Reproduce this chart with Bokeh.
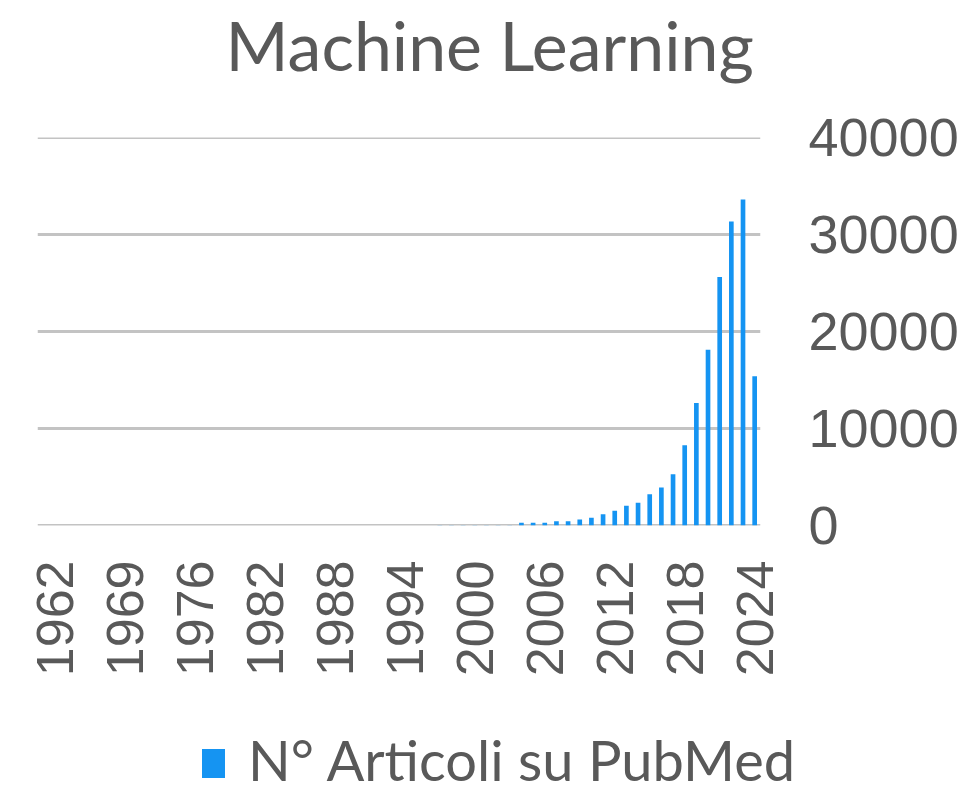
from bokeh.plotting import figure
from bokeh.models import Range1d, FixedTicker, ColumnDataSource, Title, Div
from bokeh.layouts import column
from bokeh.embed import file_html
from bokeh.resources import INLINE
import math

# ---- data ----
years = [1958, 1962, 1963, 1964, 1965, 1966, 1968, 1969, 1970, 1971, 1972, 1973, 1975] + list(range(1976, 2025))
counts = [1, 1, 1, 1, 1, 1, 1, 1, 1, 1, 1, 1, 1,
          1, 1, 1, 2, 2, 2, 2, 3, 3, 3, 4, 4, 5, 5, 6,
          6, 7, 8, 9, 10, 11, 12, 14, 16, 18, 20, 24, 30,
          280, 280, 280, 440, 440, 620, 790, 1170, 1520, 2030, 2340, 3230, 3920, 5290,
          8260, 12620, 18130, 25620, 31340, 33610, 15380]
label_every = 6
series_name = "N° Articoli su PubMed"
title_text = "Machine Learning"
y_ticks = [0, 10000, 20000, 30000, 40000]

idx = list(range(len(years)))
src = ColumnDataSource(dict(x=idx, count=counts, year=[str(y) for y in years]))

TXT = "#595959"
BAR = "#1594F2"

p = figure(width=961, height=720, output_backend="svg", toolbar_location=None,
           x_range=Range1d(-0.5, len(years) - 0.5), y_range=Range1d(-1, 40001),
           y_axis_location="right",
           min_border_left=37, min_border_right=201, min_border_top=137, min_border_bottom=195)

r = p.vbar(x="x", top="count", width=0.4, source=src, fill_color=BAR, line_color=None)

# title (outermost) + small spacer between title and plot area
p.title.text = title_text
p.title.align = "left"
p.title.offset = 188
p.title.text_font = "Lato"
p.title.text_font_size = "68px"
p.title.text_font_style = "normal"
p.title.text_color = TXT
p.title.standoff = 0
p.add_layout(Title(text=" ", text_font_size="10px", standoff=40), "above")

# grid
p.xgrid.grid_line_color = None
p.ygrid.grid_line_color = "#c3c3c3"
p.ygrid.grid_line_width = 3
p.outline_line_color = None

# x axis
tick_idx = list(range(1, len(years), label_every))
p.xaxis.ticker = FixedTicker(ticks=tick_idx)
p.xaxis.major_label_overrides = {i: str(years[i]) for i in tick_idx}
p.xaxis.major_label_orientation = math.pi / 2
p.xaxis.major_label_text_font = "Liberation Sans"
p.xaxis.major_label_text_font_size = "52px"
p.xaxis.major_label_text_color = TXT
p.xaxis.major_label_standoff = 29
p.xaxis.axis_line_color = None
p.xaxis.major_tick_line_color = None
p.xaxis.minor_tick_line_color = None

# y axis
p.yaxis.ticker = FixedTicker(ticks=y_ticks)
p.yaxis.major_label_text_font = "Liberation Sans"
p.yaxis.major_label_text_font_size = "54px"
p.yaxis.major_label_text_color = TXT
p.yaxis.major_label_standoff = 42
p.yaxis.axis_line_color = None
p.yaxis.major_tick_line_color = None
p.yaxis.minor_tick_line_color = None
p.yaxis.formatter.use_scientific = False

# legend strip below the chart
legend_html = (
    '<div style="position:relative;width:961px;height:73px;">'
    f'<div style="position:absolute;left:202px;top:29px;width:23px;height:29px;background:{BAR};"></div>'
    f'<div style="position:absolute;left:248px;top:12px;font-family:Lato;font-size:56px;line-height:1;'
    f'color:{TXT};white-space:nowrap;">{series_name}</div>'
    '</div>'
)
legend_div = Div(text=legend_html, width=961, height=73, margin=0)

layout = column(p, legend_div, spacing=0)
open("out.html", "w").write(file_html(layout, INLINE))
